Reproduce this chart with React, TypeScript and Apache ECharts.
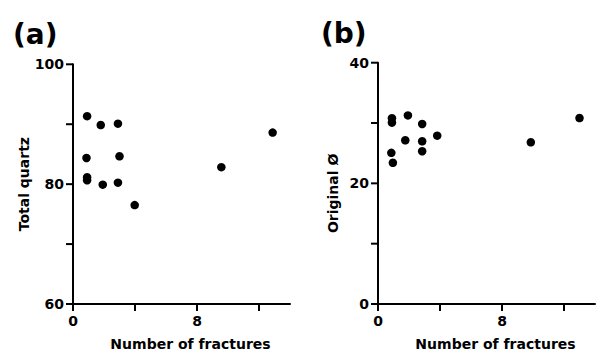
import React, { useEffect, useRef } from "react";
import * as echarts from "echarts";

// Panel (a): Total quartz vs number of fractures
const fracturesA = [0.91, 1.79, 2.9, 0.87, 3.0, 0.91, 0.91, 1.92, 2.9, 3.98, 9.57, 12.88];
const quartzA = [91.35, 89.87, 90.1, 84.37, 84.65, 81.15, 80.66, 79.92, 80.25, 76.5, 82.84, 88.6];

// Panel (b): Original porosity vs number of fractures
const fracturesB = [0.9, 0.9, 1.93, 2.85, 1.76, 2.85, 2.85, 3.82, 0.86, 0.96, 9.86, 13.0];
const porosityB = [30.8, 30.06, 31.26, 29.84, 27.14, 26.97, 25.33, 27.91, 25.06, 23.41, 26.81, 30.83];

const xTicks = [0, 4, 8, 12];
const xLabels = [0, 8];
const yTicksA = [60, 70, 80, 90, 100];
const yLabelsA = [60, 80, 100];
const yTicksB = [0, 10, 20, 30, 40];
const yLabelsB = [0, 20, 40];

const FONT = "DejaVu Sans";

function makeXAxis(gridIndex: number, namePad: number) {
  return {
    type: "value",
    gridIndex,
    min: 0,
    max: 14,
    interval: 4,
    name: "Number of fractures",
    nameLocation: "middle",
    nameGap: 33,
    nameTextStyle: {
      fontFamily: FONT,
      fontWeight: "bold",
      fontSize: 14,
      color: "#000",
      padding: [0, 0, 0, namePad],
    },
    axisLine: { show: true, onZero: false, lineStyle: { color: "#000", width: 2 } },
    axisTick: { show: false },
    axisLabel: {
      show: true,
      margin: 10,
      fontFamily: FONT,
      fontWeight: "bold",
      fontSize: 14,
      color: "#000",
      formatter: (v: number) => (xLabels.includes(v) ? String(v) : ""),
    },
    splitLine: { show: false },
  };
}

function makeYAxis(
  gridIndex: number,
  min: number,
  max: number,
  labels: number[],
  name: string,
  nameGap: number,
  namePad: number[]
) {
  return {
    type: "value",
    gridIndex,
    min,
    max,
    interval: 10,
    name,
    nameLocation: "middle",
    nameGap,
    nameTextStyle: {
      fontFamily: FONT,
      fontWeight: "bold",
      fontSize: 14,
      color: "#000",
      padding: namePad,
    },
    axisLine: { show: true, onZero: false, lineStyle: { color: "#000", width: 2 } },
    axisTick: { show: false },
    axisLabel: {
      show: true,
      margin: 9,
      fontFamily: FONT,
      fontWeight: "bold",
      fontSize: 14,
      color: "#000",
      formatter: (v: number) => (labels.includes(v) ? String(v) : ""),
    },
    splitLine: { show: false },
  };
}

// Tick marks drawn as small filled rects positioned through the axes' scales (api.coord)
function tickSeries(gridIdx: number, xt: number[], yt: number[], xMin: number, yMin: number) {
  const data: number[][] = [
    ...xt.map((v) => [v, yMin, 0]),
    ...yt.map((v) => [xMin, v, 1]),
  ];
  return {
    type: "custom",
    xAxisIndex: gridIdx,
    yAxisIndex: gridIdx,
    encode: { x: 0, y: 1 },
    clip: false,
    silent: true,
    z: 5,
    data,
    renderItem: (params: any, api: any) => {
      const kind = api.value(2);
      const p = api.coord([api.value(0), api.value(1)]);
      const shape =
        kind === 0
          ? { x: p[0] - 1, y: p[1], width: 2, height: 7 }
          : { x: p[0] - 7, y: p[1] - 1, width: 7, height: 2 };
      return {
        type: "rect",
        shape,
        style: { fill: "#000" },
      };
    },
  };
}

export default function App() {
  const ref = useRef<HTMLDivElement>(null);
  useEffect(() => {
    if (!ref.current) return;
    const chart = echarts.init(ref.current, undefined, { renderer: "svg" });
    chart.setOption({
      animation: false,
      backgroundColor: "#fff",
      title: [
        {
          text: "(a)",
          left: 8,
          top: 15,
          textStyle: { fontFamily: FONT, fontWeight: "bold", fontSize: 28, color: "#000" },
        },
        {
          text: "(b)",
          left: 316,
          top: 14,
          textStyle: { fontFamily: FONT, fontWeight: "bold", fontSize: 28, color: "#000" },
        },
      ],
      grid: [
        { left: 73, top: 64.3, width: 217, height: 242.4 },
        { left: 378, top: 62.7, width: 218.6, height: 242.6 },
      ],
      xAxis: [makeXAxis(0, 18), makeXAxis(1, 18)],
      yAxis: [
        makeYAxis(0, 60, 100, yLabelsA, "Total quartz", 38, [0, 0, 0, 0]),
        makeYAxis(1, 0, 40, yLabelsB, "Original Ø", 38, [0, 20, 0, 0]),
      ],
      series: [
        {
          type: "scatter",
          xAxisIndex: 0,
          yAxisIndex: 0,
          symbol: "circle",
          symbolSize: 8.5,
          itemStyle: { color: "#000", opacity: 1 },
          data: fracturesA.map((x, i) => [x, quartzA[i]]),
        },
        {
          type: "scatter",
          xAxisIndex: 1,
          yAxisIndex: 1,
          symbol: "circle",
          symbolSize: 8.5,
          itemStyle: { color: "#000", opacity: 1 },
          data: fracturesB.map((x, i) => [x, porosityB[i]]),
        },
        tickSeries(0, xTicks, yTicksA, 0, 60),
        tickSeries(1, xTicks, yTicksB, 0, 0),
      ],
    });
    return () => chart.dispose();
  }, []);
  return (
    <div
      ref={ref}
      style={{ position: "fixed", left: 0, top: 0, width: 598, height: 356, background: "#fff" }}
    />
  );
}
